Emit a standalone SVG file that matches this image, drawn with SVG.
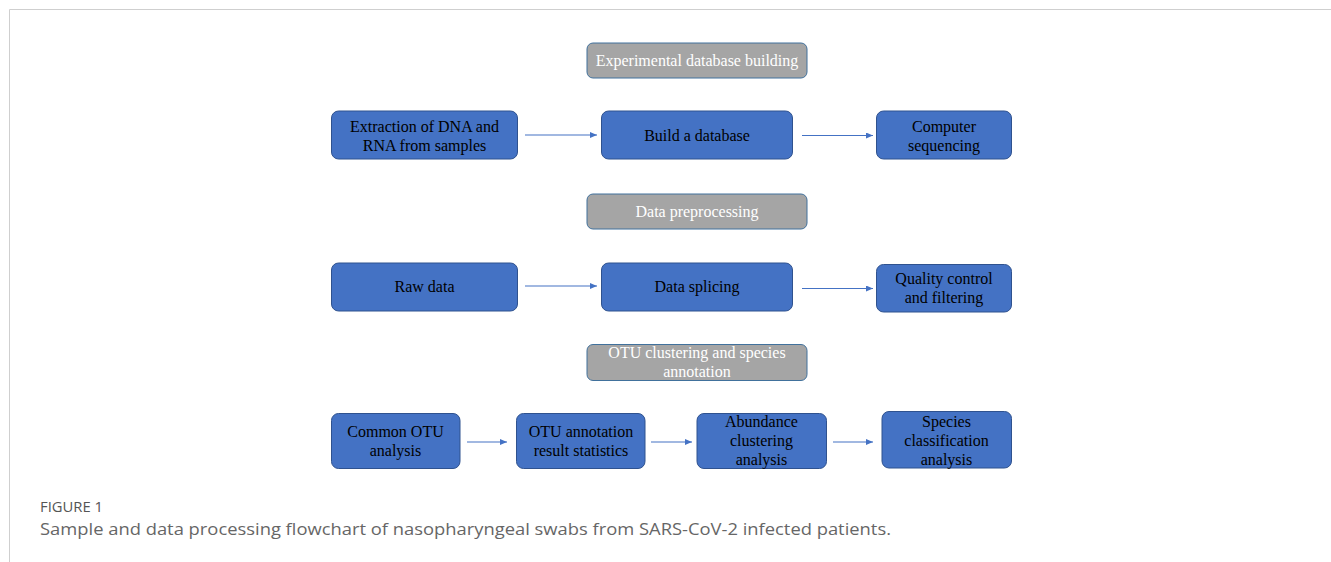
<svg xmlns="http://www.w3.org/2000/svg" width="1331" height="562" viewBox="0 0 1331 562">
<defs>
<style>
.bx{fill:#4472C4;stroke:#2F528F;stroke-width:1}
.gr{fill:#A5A5A5;stroke:#41719C;stroke-width:1}
.t{font-family:"Liberation Serif","Times New Roman",serif;font-size:16px;fill:#000;text-anchor:middle}
.tw{font-family:"Liberation Serif","Times New Roman",serif;font-size:16px;fill:#fff;text-anchor:middle}
.c{stroke:#4472C4;stroke-width:1.2;fill:none}
</style>
<marker id="ah" markerWidth="8" markerHeight="6" refX="7" refY="3" orient="auto" markerUnits="userSpaceOnUse">
<path d="M0,0 L7,3 L0,6 Z" fill="#4472C4"/>
</marker>
</defs>
<rect width="1331" height="562" fill="#fff"/>
<path d="M9.5,562 V9.5 H1331" fill="none" stroke="#cfcfcf" stroke-width="1"/>

<g id="g1"><rect class="gr" x="587" y="43" width="220" height="35" rx="6"/><text class="tw" x="697" y="66">Experimental database building</text></g>
<g id="n1"><rect class="bx" x="331.5" y="111" width="186" height="48" rx="7"/><text class="t" x="424.5" y="132">Extraction of DNA and</text><text class="t" x="424.5" y="151">RNA from samples</text></g>
<g id="n2"><rect class="bx" x="601.5" y="111" width="191" height="48" rx="7"/><text class="t" x="697" y="141">Build a database</text></g>
<g id="n3"><rect class="bx" x="876.5" y="111" width="135" height="48" rx="7"/><text class="t" x="944" y="132">Computer</text><text class="t" x="944" y="151">sequencing</text></g>

<g id="g2"><rect class="gr" x="587" y="194" width="220" height="35" rx="6"/><text class="tw" x="697" y="217">Data preprocessing</text></g>
<g id="n4"><rect class="bx" x="331.5" y="263" width="186" height="48" rx="7"/><text class="t" x="424.5" y="292">Raw data</text></g>
<g id="n5"><rect class="bx" x="601.5" y="263" width="191" height="48" rx="7"/><text class="t" x="697" y="292">Data splicing</text></g>
<g id="n6"><rect class="bx" x="876.5" y="264.5" width="135" height="47.5" rx="7"/><text class="t" x="944" y="284">Quality control</text><text class="t" x="944" y="303">and filtering</text></g>

<g id="g3"><rect class="gr" x="587" y="344.5" width="220" height="36" rx="6"/><text class="tw" x="697" y="358">OTU clustering and species</text><text class="tw" x="697" y="377">annotation</text></g>
<g id="n7"><rect class="bx" x="331.5" y="413.5" width="128.5" height="55" rx="7"/><text class="t" x="395.5" y="437">Common OTU</text><text class="t" x="395.5" y="456">analysis</text></g>
<g id="n8"><rect class="bx" x="516.5" y="413.5" width="128.5" height="55" rx="7"/><text class="t" x="581" y="437">OTU annotation</text><text class="t" x="581" y="456">result statistics</text></g>
<g id="n9"><rect class="bx" x="697" y="413.5" width="129.5" height="55" rx="7"/><text class="t" x="761.5" y="427">Abundance</text><text class="t" x="761.5" y="446">clustering</text><text class="t" x="761.5" y="465">analysis</text></g>
<g id="n10"><rect class="bx" x="882" y="411.5" width="129.5" height="56.5" rx="7"/><text class="t" x="946.5" y="427">Species</text><text class="t" x="946.5" y="446">classification</text><text class="t" x="946.5" y="465">analysis</text></g>

<g id="connectors">
<line class="c" x1="525" y1="135" x2="597" y2="135" marker-end="url(#ah)"/>
<line class="c" x1="802" y1="135.5" x2="873" y2="135.5" marker-end="url(#ah)"/>
<line class="c" x1="525" y1="286" x2="597" y2="286" marker-end="url(#ah)"/>
<line class="c" x1="802" y1="288.5" x2="873" y2="288.5" marker-end="url(#ah)"/>
<line class="c" x1="467" y1="442" x2="507" y2="442" marker-end="url(#ah)"/>
<line class="c" x1="651" y1="442" x2="692" y2="442" marker-end="url(#ah)"/>
<line class="c" x1="833" y1="442" x2="873" y2="442" marker-end="url(#ah)"/>
</g>

<text x="40" y="512" font-family="'Open Sans','Noto Sans',sans-serif" font-size="14" fill="#555" textLength="63" lengthAdjust="spacingAndGlyphs">FIGURE 1</text>
<text x="40" y="535" font-family="'Open Sans','Noto Sans',sans-serif" font-size="17" fill="#666" textLength="851" lengthAdjust="spacingAndGlyphs">Sample and data processing flowchart of nasopharyngeal swabs from SARS-CoV-2 infected patients.</text>
</svg>
